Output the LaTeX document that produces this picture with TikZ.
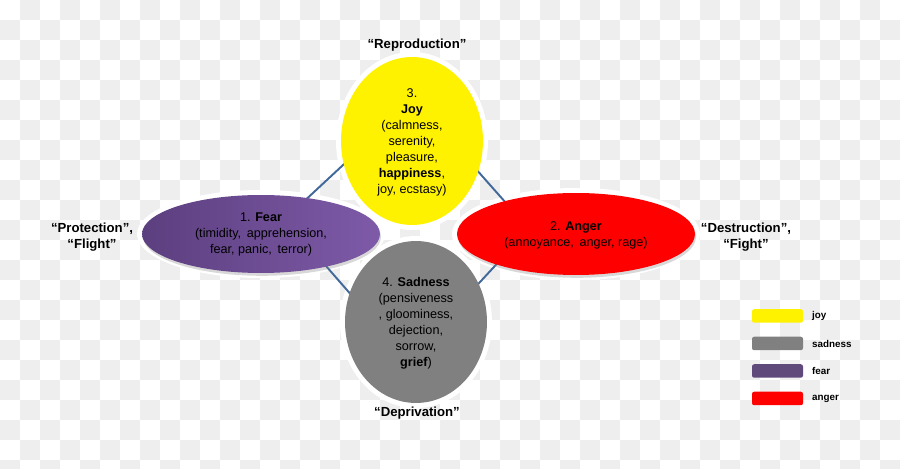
\documentclass[tikz,border=0pt]{standalone}
\usepackage{fontspec}
\setmainfont{Liberation Sans}
\usetikzlibrary{calc,positioning,shapes.geometric,shadows}
\definecolor{checkgray}{HTML}{EEEEEE}
\definecolor{linkblue}{HTML}{41689A}
\definecolor{sadgray}{HTML}{808080}
\definecolor{fearleft}{HTML}{5C3F7F}
\definecolor{fearright}{HTML}{7E5AA8}
\definecolor{fearkey}{HTML}{604A7B}
\def\emosize{\fontsize{7.2}{9.1}\selectfont}
\def\mottosize{\fontsize{7.5}{9.3}\selectfont\bfseries}

\begin{document}
\begin{tikzpicture}[x=0.02cm,y=-0.02cm,
	emo/.style={ellipse,inner sep=0pt,draw=none},
	emotxt/.style={align=center,font=\emosize,inner sep=0pt},
	motto/.style={align=center,font=\mottosize,inner sep=0pt},
	key/.style={rounded corners=1.2pt,minimum width=1.02cm,minimum height=0.27cm,inner sep=0pt},
	keytxt/.style={font=\fontsize{5.6}{7}\selectfont\bfseries,inner sep=0pt},
	link/.style={draw=linkblue,line width=1.1pt},
	shade/.style={drop shadow={opacity=0.3,shadow xshift=0.6pt,shadow yshift=-1.6pt}}]
		%%%%% START %%%%%
		\useasboundingbox (0,0) rectangle (900,469);
		
		% background squares
		\begin{scope}
			\clip (0,0) rectangle (900,469);
			\foreach \i in {0,2,...,44}
				\foreach \j in {1,3,...,23}
					\fill[checkgray] (\i*20,\j*20) rectangle ++(20,20);
			\foreach \i in {1,3,...,43}
				\foreach \j in {0,2,...,22}
					\fill[checkgray] (\i*20,\j*20) rectangle ++(20,20);
		\end{scope}
		
		% white glow round the ellipses
		\fill[white] (412,141) ellipse (76 and 89);
		\fill[white] (416,322) ellipse (76 and 86);
		\fill[white] (261,234) ellipse (124 and 44);
		\fill[white] (576,234) ellipse (124 and 46);
		
		% diamond behind the ellipses
		\coordinate (dtop) at (414,99);
		\coordinate (dleft) at (285,219);
		\coordinate (dbot) at (408,360);
		\coordinate (dright) at (529,229);
		\draw[link] (dtop) -- (dleft) -- (dbot) -- (dright) -- cycle;
		
		\node[emo,fill=yellow,minimum width=2.84cm,minimum height=3.36cm] (joy) at (412,141) {};
		\node[emo,fill=sadgray,minimum width=2.84cm,minimum height=3.24cm] (sadness) at (416,322) {};
		\node[emo,shade,left color=fearleft,right color=fearright,minimum width=4.76cm,minimum height=1.56cm] (fear) at (261,234) {};
		\node[emo,shade,fill=red,minimum width=4.76cm,minimum height=1.64cm] (anger) at (576,234) {};
		
		\node[emotxt] (joytxt) at ($(joy.center)+(0,1)$) {3.\\\textbf{Joy}\\(calmness,\\serenity,\\pleasure,\\\textbf{happiness},\\joy, ecstasy)};
		\node[emotxt] (feartxt) at (fear.center) {1. \textbf{Fear}\\(timidity,\ \,apprehension,\\fear, panic,\ \,terror)};
		\node[emotxt] (angertxt) at ($(anger.center)+(0,1)$) {2. \textbf{Anger}\\(annoyance,\ \,anger, rage)};
		\node[emotxt] (sadtxt) at ($(sadness.center)+(0,1)$) {4. \textbf{Sadness}\\(pensiveness\\, gloominess,\\dejection,\\sorrow,\\\textbf{grief})};
		
		\node[motto] (repro) at (417,45) {“Reproduction”};
		\node[motto] (protect) at (92,237) {“Protection”,\\“Flight”};
		\node[motto] (destr) at (746,237) {“Destruction”,\\“Fight”};
		\node[motto] (depriv) at (417,413) {“Deprivation”};
		
		% legend
		\foreach \c/\t [count=\k] in {yellow/joy,sadgray/sadness,fearkey/fear,red/anger}{
			\node[key,fill=\c] (key\k) at (777.5,{316+27.5*(\k-1)}) {};
			\node[keytxt,right=0.17cm of key\k] (keytxt\k) {\t};
		}
		%%%%% END %%%%%
	\end{tikzpicture}
\end{document}
